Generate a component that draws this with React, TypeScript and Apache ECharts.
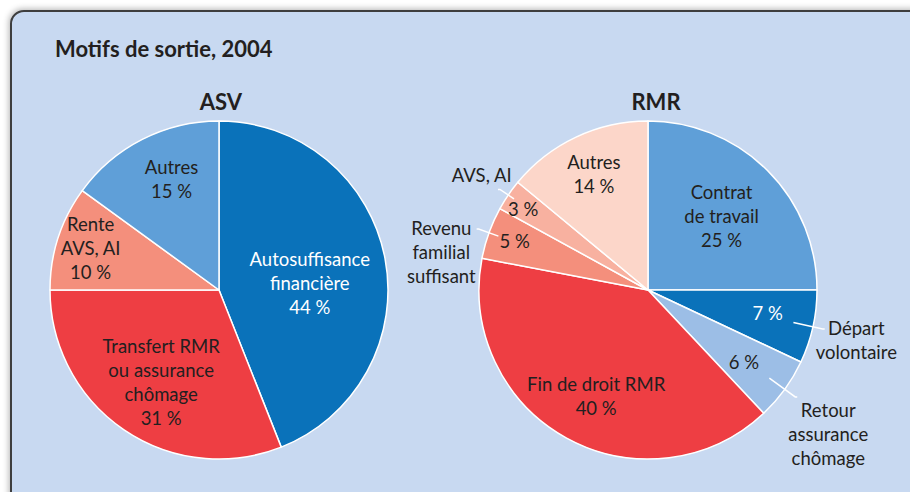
import React, { useEffect, useRef } from "react";
import * as echarts from "echarts";

// ---------- data ----------
const asvCategories = ["Autosuffisance financière", "Transfert RMR ou assurance chômage", "Rente AVS, AI", "Autres"];
const asvLabels = ["Autosuffisance\nfinancière", "Transfert RMR\nou assurance\nchômage", "Rente\nAVS, AI", "Autres"];
const asvValues = [44, 31, 10, 15];

const rmrCategories = [
  "Contrat de travail",
  "Départ volontaire",
  "Retour assurance chômage",
  "Fin de droit RMR",
  "Revenu familial suffisant",
  "AVS, AI",
  "Autres",
];
const rmrInsideLabels = ["Contrat\nde travail", "", "", "Fin de droit RMR", "", "", "Autres"];
const rmrOutsideLabels = ["", "Départ\nvolontaire", "Retour\nassurance\nchômage", "", "Revenu\nfamilial\nsuffisant", "AVS, AI", ""];
const rmrValues = [25, 7, 6, 40, 5, 3, 14];

const titleText = "Motifs de sortie, 2004";
const asvTitle = "ASV";
const rmrTitle = "RMR";

// ---------- styles ----------
const FONT = "Lato, 'Open Sans', sans-serif";
const DARK = "#231f20";
const DEEP = "#0a72ba";
const MID = "#5f9fd8";
const LIGHTB = "#9cbee6";
const RED = "#ee3e43";
const SALMON = "#f48f7c";
const SALMON2 = "#f8b1a0";
const PINK = "#fcd6c9";

const asvColors = [DEEP, RED, SALMON, MID];
const asvTextColors = ["#fff", DARK, DARK, DARK];
const rmrColors = [MID, DEEP, LIGHTB, RED, SALMON, SALMON2, PINK];
const rmrTextColors = [DARK, "#fff", DARK, DARK, DARK, DARK, DARK];

const R = 169;
const FS = 18.5;
const LH = 24;
const ASV_CENTER = [219, 290];
const RMR_CENTER = [648, 290];
// label placement inside the slices: [radius, angle clockwise from 12 o'clock]
const asvLabelPolar = [
  [88, 86],
  [106, 212],
  [132, 288],
  [118, 337],
];
const rmrLabelPolar = [
  [101, 45],
  [119, 101],
  [117, 127],
  [115, 206],
  [139, 290],
  [146, 303],
  [125, 335],
];
// outside name labels: index, leader start radius, leader length, padding, distance
const outsideSpecs = [
  { index: 1, radius: 149, length: 30, padding: [22, 0, 0, 0], distance: -9 },
  { index: 2, radius: 150, length: 32, padding: [74, 0, 0, 0], distance: -9 },
  { index: 4, radius: 159, length: 21, padding: [46, 0, 0, 0], distance: 1 },
  { index: 5, radius: 162, length: 17, padding: [0, 0, 28, 0], distance: -14 },
];

function labelShift(values: number[], polar: number[][]) {
  const total = values.reduce((a, b) => a + b, 0);
  return (params: any) => {
    const i = params.dataIndex;
    let before = 0;
    for (let j = 0; j < i; j++) before += values[j];
    const mid = ((before + values[i] / 2) / total) * Math.PI * 2;
    const defX = (R / 2) * Math.sin(mid);
    const defY = -(R / 2) * Math.cos(mid);
    const a = (polar[i][1] * Math.PI) / 180;
    const tx = polar[i][0] * Math.sin(a);
    const ty = -polar[i][0] * Math.cos(a);
    return { dx: tx - defX, dy: ty - defY, hideOverlap: false };
  };
}

function nameOverlay(spec: any) {
  return {
    type: "pie",
    name: "RMR-name-" + spec.index,
    center: RMR_CENTER,
    radius: [0, spec.radius],
    startAngle: 90,
    clockwise: true,
    avoidLabelOverlap: false,
    silent: true,
    z: 5,
    labelLayout: { hideOverlap: false },
    itemStyle: { color: "rgba(0,0,0,0)", borderWidth: 0 },
    label: {
      show: true,
      position: "outside",
      fontFamily: FONT,
      fontSize: FS,
      lineHeight: LH,
      color: DARK,
      formatter: (p: any) =>
        rmrOutsideLabels[p.dataIndex]
          .split("\n")
          .map((s) => "{c|" + s + "}")
          .join("\n"),
      rich: {
        c: { align: "center", fontFamily: FONT, fontSize: FS, lineHeight: LH, color: DARK },
      },
    },
    labelLine: {
      show: true,
      length2: 2,
      minTurnAngle: 0,
      maxSurfaceAngle: 180,
      lineStyle: { color: "#ffffff", width: 1.5 },
    },
    data: rmrCategories.map((name, i) => {
      const has = i === spec.index;
      return {
        name,
        value: rmrValues[i],
        label: has ? { show: true, padding: spec.padding, distanceToLabelLine: spec.distance } : { show: false },
        labelLine: has ? { show: true, length: spec.length } : { show: false },
      };
    }),
  };
}

export default function App() {
  const ref = useRef<HTMLDivElement>(null);

  useEffect(() => {
    if (!ref.current) return;
    const chart = echarts.init(ref.current, undefined, { renderer: "svg" });

    const labelBase = { fontFamily: FONT, fontSize: FS, lineHeight: LH };
    const titleStyle = { fontFamily: FONT, fontSize: 22, fontWeight: "bold", color: DARK };

    const option: any = {
      animation: false,
      backgroundColor: "transparent",
      title: [
        { text: titleText, left: 55, top: 37, padding: 0, textStyle: titleStyle },
        { text: asvTitle, left: 221, top: 90, padding: 0, textAlign: "center", textStyle: titleStyle },
        { text: rmrTitle, left: 656, top: 90, padding: 0, textAlign: "center", textStyle: titleStyle },
      ],
      series: [
        {
          type: "pie",
          name: "ASV",
          center: ASV_CENTER,
          radius: [0, R],
          startAngle: 90,
          clockwise: true,
          avoidLabelOverlap: false,
          silent: true,
          itemStyle: { borderColor: "#ffffff", borderWidth: 1.5 },
          label: {
            show: true,
            position: "inside",
            ...labelBase,
            formatter: (p: any) => asvLabels[p.dataIndex] + "\n" + p.value + " %",
          },
          labelLine: { show: false },
          labelLayout: labelShift(asvValues, asvLabelPolar),
          data: asvCategories.map((name, i) => ({
            name,
            value: asvValues[i],
            itemStyle: { color: asvColors[i] },
            label: { color: asvTextColors[i] },
          })),
        },
        {
          type: "pie",
          name: "RMR",
          center: RMR_CENTER,
          radius: [0, R],
          startAngle: 90,
          clockwise: true,
          avoidLabelOverlap: false,
          silent: true,
          itemStyle: { borderColor: "#ffffff", borderWidth: 1.5 },
          label: {
            show: true,
            position: "inside",
            ...labelBase,
            formatter: (p: any) => {
              const l = rmrInsideLabels[p.dataIndex];
              return (l ? l + "\n" : "") + p.value + " %";
            },
          },
          labelLine: { show: false },
          labelLayout: labelShift(rmrValues, rmrLabelPolar),
          data: rmrCategories.map((name, i) => ({
            name,
            value: rmrValues[i],
            itemStyle: { color: rmrColors[i] },
            label: { color: rmrTextColors[i] },
          })),
        },
        ...outsideSpecs.map(nameOverlay),
      ],
    };

    chart.setOption(option);
    return () => chart.dispose();
  }, []);

  return (
    <div
      style={{
        position: "absolute",
        left: 0,
        top: 0,
        width: 910,
        height: 492,
        overflow: "hidden",
        background: "#ffffff",
      }}
    >
      <div
        style={{
          position: "absolute",
          left: 10,
          top: 10,
          width: 940,
          height: 520,
          boxSizing: "border-box",
          border: "2px solid #3e3e3e",
          borderRadius: 14,
          background: "#c8d9f1",
          boxShadow: "-1px -1px 6px rgba(0,0,0,0.3)",
        }}
      />
      <div ref={ref} style={{ position: "absolute", left: 0, top: 0, width: 910, height: 492 }} />
    </div>
  );
}
